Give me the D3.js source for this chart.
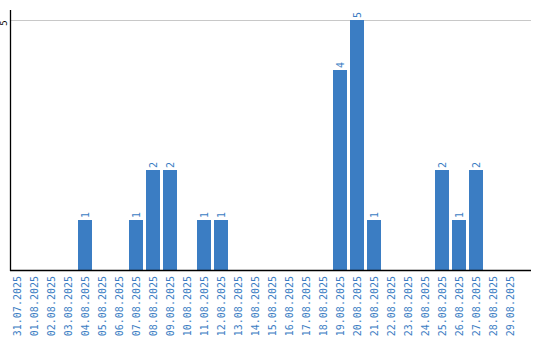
<!DOCTYPE html>
<html><head><meta charset="utf-8">
<script src="https://cdn.jsdelivr.net/npm/d3@7"></script>
<style>body{margin:0;background:#fff}svg{display:block}</style>
</head><body>
<svg id="c" width="540" height="340"></svg>
<script>
const dates = ["31.07.2025","01.08.2025","02.08.2025","03.08.2025","04.08.2025","05.08.2025","06.08.2025","07.08.2025","08.08.2025","09.08.2025","10.08.2025","11.08.2025","12.08.2025","13.08.2025","14.08.2025","15.08.2025","16.08.2025","17.08.2025","18.08.2025","19.08.2025","20.08.2025","21.08.2025","22.08.2025","23.08.2025","24.08.2025","25.08.2025","26.08.2025","27.08.2025","28.08.2025","29.08.2025"];
const counts = [0,0,0,0,1,0,0,1,2,2,0,1,1,0,0,0,0,0,0,4,5,1,0,0,0,2,1,2,0,0];
const yTicks = [5];

const blue = "#3b7dc3";
const font = "'DejaVu Sans Mono', monospace";
const svg = d3.select("#c");
const x = d3.scaleBand().domain(dates).range([10, 517]).paddingInner(3/17).paddingOuter(0);
const y = d3.scaleLinear().domain([0, 5]).range([270, 20]);

// gridlines
svg.append("g").selectAll("line").data(yTicks).join("line")
  .attr("x1", 11).attr("x2", 531)
  .attr("y1", d => Math.round(y(d)) + 0.5).attr("y2", d => Math.round(y(d)) + 0.5)
  .attr("stroke", "#c8c8c8").attr("stroke-width", 1);

// bars
const data = dates.map((d, i) => ({d, v: counts[i]}));
svg.append("g").selectAll("rect").data(data.filter(e => e.v > 0)).join("rect")
  .attr("x", e => x(e.d)).attr("width", x.bandwidth())
  .attr("y", e => y(e.v)).attr("height", e => y(0) - y(e.v))
  .attr("fill", blue);

// value labels
svg.append("g").selectAll("text").data(data.filter(e => e.v > 0)).join("text")
  .attr("transform", e => `translate(${x(e.d) + x.bandwidth()/2 + 3.5},${y(e.v) - 2}) rotate(-90)`)
  .attr("text-anchor", "start")
  .attr("font-family", font).attr("font-size", 10).attr("fill", blue)
  .text(e => e.v);

// x axis
const xAxis = svg.append("g").attr("transform", "translate(0,270)")
  .call(d3.axisBottom(x).tickSize(0).tickPadding(0));
xAxis.select(".domain").remove();
xAxis.selectAll("text")
  .attr("font-family", font).attr("font-size", 10).attr("fill", blue)
  .attr("text-anchor", "end")
  .attr("transform", "translate(3.5,6) rotate(-90)")
  .attr("dy", 0).attr("y", 0).attr("x", 0);
svg.append("line").attr("x1", 10).attr("x2", 531).attr("y1", 270.5).attr("y2", 270.5)
  .attr("stroke", "#000").attr("stroke-width", 1.3);

// y axis
svg.append("line").attr("x1", 10.5).attr("x2", 10.5).attr("y1", 10).attr("y2", 271)
  .attr("stroke", "#000").attr("stroke-width", 1.3);
svg.append("g").selectAll("text").data(yTicks).join("text")
  .attr("transform", d => `translate(7,${y(d) + 3}) rotate(-90)`)
  .attr("text-anchor", "middle")
  .attr("font-family", font).attr("font-size", 9).attr("fill", "#000")
  .text(d => d);
</script>
</body></html>
